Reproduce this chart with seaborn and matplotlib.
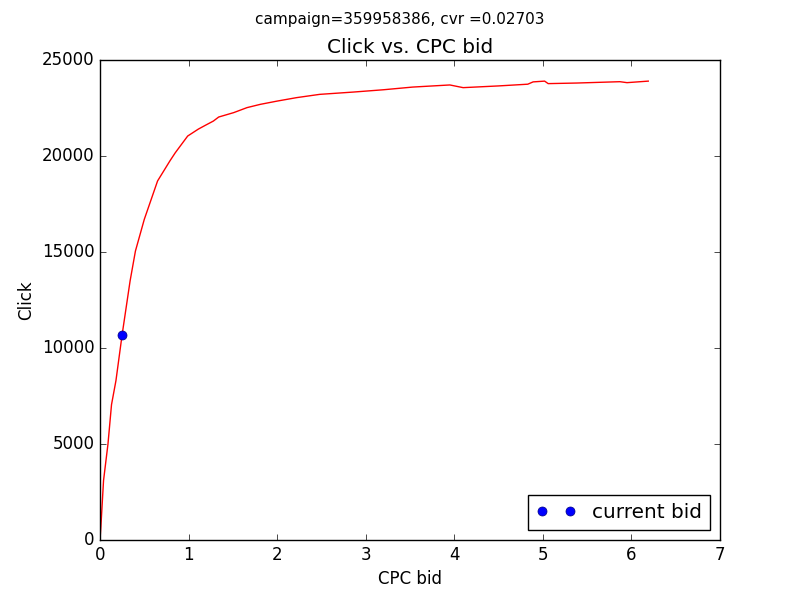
import matplotlib
matplotlib.use("Agg")
import matplotlib.pyplot as plt
import seaborn as sns

# bid -> click curve
bid = [0, 0.01, 0.04, 0.09, 0.13, 0.18, 0.25, 0.34, 0.40, 0.50, 0.65, 0.79,
       0.85, 0.99, 1.11, 1.19, 1.28, 1.34, 1.51, 1.66, 1.81, 2.0, 2.22, 2.48,
       2.86, 3.2, 3.53, 3.95, 4.1, 4.5, 4.83, 4.89, 5.02, 5.06, 5.38, 5.87,
       5.95, 6.19]
click = [0, 700, 3100, 5000, 7050, 8300, 10700, 13500, 15050, 16700, 18700,
         19750, 20170, 21040, 21400, 21600, 21820, 22030, 22260, 22520, 22690,
         22860, 23040, 23210, 23330, 23450, 23590, 23700, 23560, 23650, 23740,
         23860, 23900, 23770, 23800, 23870, 23820, 23900]

current_bid = [0.248]
current_click = [10700]

plt.style.use("classic")
fig, ax = plt.subplots(figsize=(8, 6), dpi=100)
fig.patch.set_facecolor("white")

sns.lineplot(x=bid, y=click, color="red", linewidth=1, ax=ax)
sns.lineplot(x=current_bid, y=current_click, marker="o", linestyle="",
             color="blue", markersize=6.5, markeredgecolor="#000080",
             markeredgewidth=0.5, label="current bid", ax=ax)

ax.set_xlim(0, 7)
ax.set_ylim(0, 25000)
ax.set_xlabel("CPC bid")
ax.set_ylabel("Click")
ax.set_title("Click vs. CPC bid")
fig.suptitle("campaign=359958386, cvr =0.02703", fontsize=11)
ax.legend(loc="lower right", numpoints=2)

plt.savefig("out.png", dpi=100, facecolor="white")
